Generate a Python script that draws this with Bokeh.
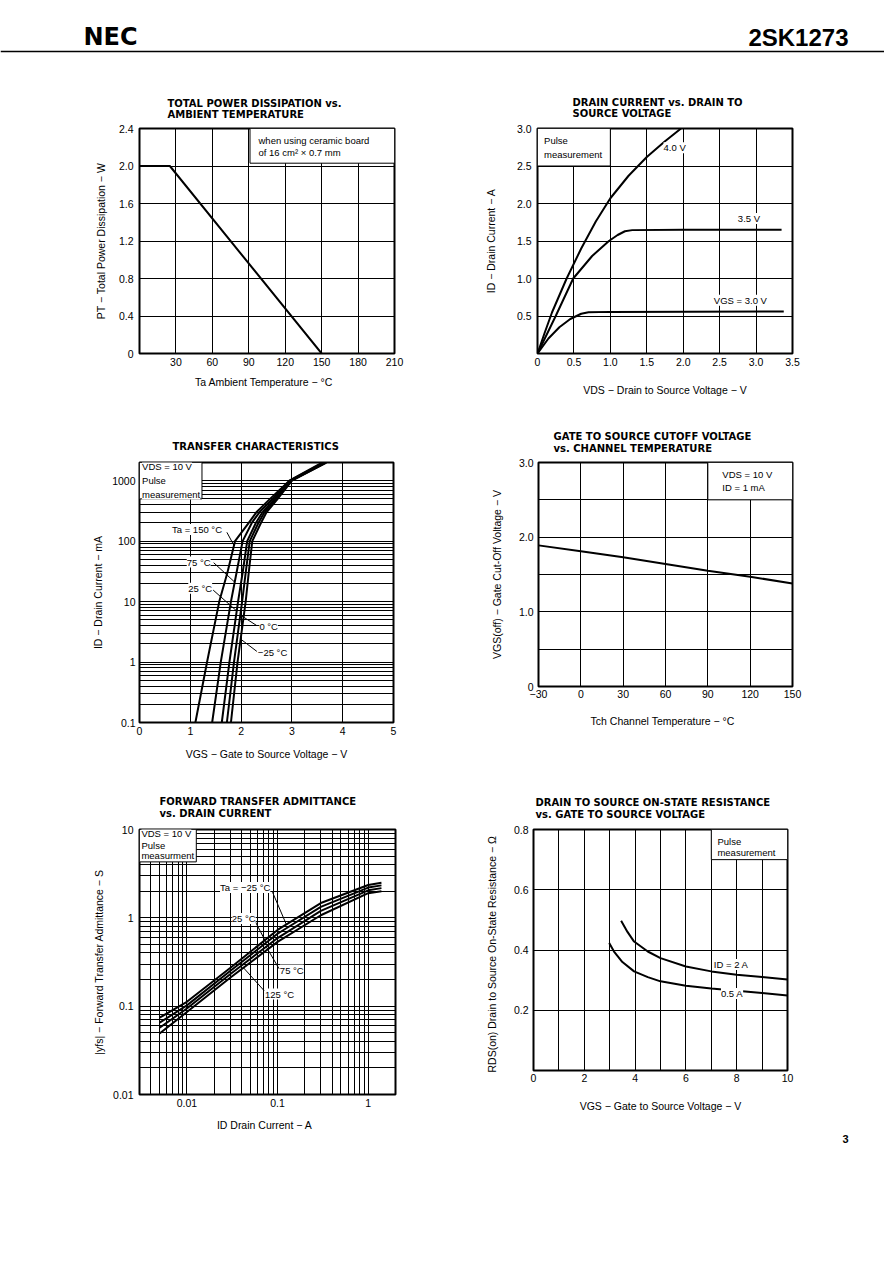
import numpy as np
from bokeh.plotting import figure
from bokeh.layouts import column, row
from bokeh.models import Range1d, FixedTicker, PrintfTickFormatter
from bokeh.core.properties import value
from bokeh.embed import file_html
from bokeh.resources import INLINE

# ---------------- data ----------------
# 1. Total power dissipation vs ambient temperature
pd_ta = [0, 25, 150]
pd_pt = [2.0, 2.0, 0.0]

# 2. Drain current vs drain-source voltage
vds_40 = [0, 0.1, 0.2, 0.4, 0.6, 0.8, 1.0, 1.25, 1.5, 1.75, 1.97]
id_40 = [0, 0.28, 0.55, 1.0, 1.4, 1.76, 2.07, 2.37, 2.62, 2.83, 3.0]
vds_35 = [0, 0.25, 0.49, 0.75, 0.98, 1.1, 1.2, 1.3, 2.0, 3.35]
id_35 = [0, 0.5, 1.0, 1.3, 1.5, 1.58, 1.63, 1.645, 1.65, 1.65]
vds_30 = [0, 0.15, 0.3, 0.45, 0.6, 0.7, 1.0, 3.38]
id_30 = [0, 0.2, 0.35, 0.46, 0.53, 0.55, 0.555, 0.56]

# 3. Transfer characteristics (ID in mA, VGS in V)
tc_id = [0.1, 1, 10, 30, 100, 200, 300, 500, 1000, 2000]
tc_vgs_150 = [1.10, 1.33, 1.57, 1.73, 1.88, 2.15, 2.30, 2.57, 2.95, 3.60]
tc_vgs_75 = [1.43, 1.60, 1.80, 1.91, 2.03, 2.21, 2.36, 2.62, 2.96, 3.63]
tc_vgs_25 = [1.62, 1.77, 1.94, 2.03, 2.12, 2.29, 2.42, 2.66, 2.98, 3.65]
tc_vgs_0 = [1.72, 1.86, 2.02, 2.09, 2.17, 2.34, 2.46, 2.69, 2.99, 3.67]
tc_vgs_m25 = [1.80, 1.93, 2.09, 2.15, 2.22, 2.39, 2.50, 2.72, 3.00, 3.68]

# 4. Gate cut-off voltage vs channel temperature
vth_tch = [-30, 0, 30, 60, 90, 120, 150]
vth_v = [1.89, 1.81, 1.73, 1.64, 1.55, 1.47, 1.38]

# 5. Forward transfer admittance vs drain current
yfs_id = [0.005, 0.01, 0.03, 0.1, 0.3, 1.0, 1.4]
yfs_m25 = [0.074, 0.112, 0.27, 0.73, 1.47, 2.35, 2.5]
yfs_25 = [0.065, 0.102, 0.25, 0.66, 1.33, 2.2, 2.33]
yfs_75 = [0.057, 0.094, 0.23, 0.59, 1.2, 2.05, 2.17]
yfs_125 = [0.049, 0.086, 0.21, 0.535, 1.07, 1.9, 2.0]

# 6. On-state resistance vs gate-source voltage
rds_vgs_2a = [3.45, 3.7, 3.96, 4.5, 5.0, 6.0, 7.0, 8.0, 9.0, 10.0]
rds_2a = [0.497, 0.46, 0.428, 0.395, 0.373, 0.345, 0.329, 0.318, 0.31, 0.302]
rds_vgs_05a = [2.98, 3.17, 3.5, 3.96, 4.5, 5.0, 6.0, 7.0, 8.0, 9.0, 10.0]
rds_05a = [0.423, 0.395, 0.36, 0.329, 0.31, 0.296, 0.281, 0.272, 0.265, 0.257, 0.249]

# ---------------- style helpers ----------------
TF = "Liberation Sans"
TITLE_FONT = "DejaVu Sans"
PAGE_W = 884


def log_grid(lo, hi):
    out = []
    for e in range(-4, 5):
        for k in range(1, 10):
            v = k * 10.0 ** e
            if lo * 1.0001 < v < hi * 0.9999:
                out.append(v)
    return out


def make_fig(fw, fh, bl, br, bt, bb, xr, yr, xt="linear", yt="linear"):
    p = figure(frame_width=fw, frame_height=fh, x_range=Range1d(*xr), y_range=Range1d(*yr),
               x_axis_type=xt, y_axis_type=yt, output_backend="svg", toolbar_location=None,
               title=None, min_border_left=bl, min_border_right=br,
               min_border_top=bt, min_border_bottom=bb)
    p.outline_line_color = "black"
    p.outline_line_width = 2
    p.background_fill_color = "white"
    p.border_fill_color = "white"
    for ax in p.axis:
        ax.axis_line_color = None
        ax.major_tick_line_color = None
        ax.minor_tick_line_color = None
        ax.major_tick_out = 0
        ax.major_tick_in = 0
        ax.minor_tick_out = 0
        ax.minor_tick_in = 0
        ax.major_label_text_font = TF
        ax.major_label_text_font_size = "10.5px"
        ax.major_label_text_color = "black"
        ax.axis_label_text_font = TF
        ax.axis_label_text_font_size = "10.5px"
        ax.axis_label_text_font_style = "normal"
        ax.axis_label_text_color = "black"
    p.grid.grid_line_color = "black"
    p.grid.grid_line_width = 1
    return p


def strip(width, x0, y0, y1):
    # a plain text band whose coordinates are page pixels
    s = figure(frame_width=width, frame_height=y1 - y0, x_range=Range1d(x0, x0 + width),
               y_range=Range1d(y1, y0), output_backend="svg", toolbar_location=None,
               title=None, min_border=0, x_axis_location=None, y_axis_location=None)
    s.grid.visible = False
    s.outline_line_color = None
    s.background_fill_color = "white"
    s.border_fill_color = "white"
    return s


def title_text(s, x, ys, lines):
    s.text(x=[x] * len(lines), y=ys, text=lines, text_font=value(TITLE_FONT),
           text_font_size=value("10px"), text_font_style="bold", text_baseline="middle",
           text_align="left", text_color="black")


def texts(p, xs, ys, ts, size="9.5px", align="left"):
    p.text(x=xs, y=ys, text=ts, text_font=value(TF), text_font_size=value(size),
           text_baseline="middle", text_align=align, text_color="black",
           background_fill_color="white")


def box(p, l, r, b, t):
    p.quad(left=[l], right=[r], bottom=[b], top=[t], fill_color="white",
           line_color="black", line_width=1)


# ---------------- header + row-1 titles ----------------
topband = strip(PAGE_W, 0, 0, 120)
topband.text(x=[83], y=[36], text=["NEC"], text_font=value("DejaVu Sans"),
             text_font_size=value("24px"), text_font_style="bold", text_baseline="middle",
             text_align="left", text_color="black")
topband.text(x=[848], y=[36.5], text=["2SK1273"], text_font=value("Liberation Sans"),
             text_font_size=value("24px"), text_font_style="bold", text_baseline="middle",
             text_align="right", text_color="black")
topband.segment(x0=[0], y0=[51], x1=[PAGE_W], y1=[51], line_color="black", line_width=1.5)
title_text(topband, 167, [103, 114], ["TOTAL POWER DISSIPATION vs.", "AMBIENT TEMPERATURE"])
title_text(topband, 572, [102, 113], ["DRAIN CURRENT vs. DRAIN TO", "SOURCE VOLTAGE"])

# ---------------- chart 1 ----------------
c1 = make_fig(255, 225, 139, 20, 8, 57, (0, 210), (0, 2.4))
c1.xaxis.ticker = FixedTicker(ticks=[30, 60, 90, 120, 150, 180, 210])
c1.yaxis.ticker = FixedTicker(ticks=[0, 0.4, 0.8, 1.2, 1.6, 2.0, 2.4])
c1.yaxis.formatter = PrintfTickFormatter(format="%.1f")
c1.yaxis.major_label_overrides = {0: "0"}
c1.xgrid.ticker = FixedTicker(ticks=[30, 60, 90, 120, 150, 180])
c1.ygrid.ticker = FixedTicker(ticks=[0.4, 0.8, 1.2, 1.6, 2.0])
c1.xaxis.axis_label = "Ta   Ambient Temperature − °C"
c1.yaxis.axis_label = "PT − Total Power Dissipation − W"
c1.xaxis.major_label_standoff = 4
c1.xaxis.axis_label_standoff = 7
c1.yaxis.major_label_standoff = 6
c1.yaxis.axis_label_standoff = 9
box(c1, 91, 210, 2.03, 2.4)
texts(c1, [98, 98], [2.277, 2.145], ["when using ceramic board", "of 16 cm² × 0.7 mm"])
c1.line(pd_ta, pd_pt, line_color="black", line_width=2)

# ---------------- chart 2 ----------------
c2 = make_fig(255, 225, 123, 40, 8, 57, (0, 3.5), (0, 3.0))
c2.xaxis.ticker = FixedTicker(ticks=[0, 0.5, 1.0, 1.5, 2.0, 2.5, 3.0, 3.5])
c2.yaxis.ticker = FixedTicker(ticks=[0.5, 1.0, 1.5, 2.0, 2.5, 3.0])
c2.xaxis.formatter = PrintfTickFormatter(format="%.1f")
c2.yaxis.formatter = PrintfTickFormatter(format="%.1f")
c2.xaxis.major_label_overrides = {0: "0"}
c2.xgrid.ticker = FixedTicker(ticks=[0.5, 1.0, 1.5, 2.0, 2.5, 3.0])
c2.ygrid.ticker = FixedTicker(ticks=[0.5, 1.0, 1.5, 2.0, 2.5])
c2.xaxis.axis_label = "VDS − Drain to Source Voltage − V"
c2.yaxis.axis_label = "ID − Drain Current − A"
c2.xaxis.major_label_standoff = 4
c2.xaxis.axis_label_standoff = 15
c2.yaxis.major_label_standoff = 6
c2.yaxis.axis_label_standoff = 17
box(c2, 0, 1.0, 2.5, 3.0)
texts(c2, [0.09, 0.09], [2.836, 2.66], ["Pulse", "measurement"])
for xs, ys in ((vds_40, id_40), (vds_35, id_35), (vds_30, id_30)):
    c2.line(xs, ys, line_color="black", line_width=2)
texts(c2, [1.73, 2.75, 2.42], [2.745, 1.8, 0.71], ["4.0 V", "3.5 V", "VGS = 3.0 V"])

# ---------------- row-2 titles ----------------
band2 = strip(PAGE_W, 0, 410, 455)
title_text(band2, 172, [446], ["TRANSFER CHARACTERISTICS"])
title_text(band2, 553, [436, 448], ["GATE TO SOURCE CUTOFF VOLTAGE", "vs. CHANNEL TEMPERATURE"])

# ---------------- chart 3 ----------------
c3 = make_fig(254, 260, 139, 20, 6, 54, (0, 5), (0.1, 2000), yt="log")
c3.xaxis.ticker = FixedTicker(ticks=[0, 1, 2, 3, 4, 5])
c3.yaxis.ticker = FixedTicker(ticks=[0.1, 1, 10, 100, 1000])
c3.yaxis.major_label_overrides = {0.1: "0.1", 1: "1", 10: "10", 100: "100", 1000: "1000"}
c3.xgrid.ticker = FixedTicker(ticks=[1, 2, 3, 4])
c3.ygrid.ticker = FixedTicker(ticks=log_grid(0.1, 2000))
c3.xaxis.axis_label = "VGS − Gate to Source Voltage − V"
c3.yaxis.axis_label = "ID − Drain Current − mA"
c3.xaxis.major_label_standoff = 4
c3.xaxis.axis_label_standoff = 10
c3.yaxis.major_label_standoff = 4
c3.yaxis.axis_label_standoff = 5
box(c3, 0, 1.23, 500, 2000)
texts(c3, [0.05, 0.05, 0.05], [1706, 990, 602], ["VDS = 10 V", "Pulse", "measurement"])
tc_curves = [tc_vgs_150, tc_vgs_75, tc_vgs_25, tc_vgs_0, tc_vgs_m25]
for v in tc_curves:
    c3.line(v, tc_id, line_color="black", line_width=2)


def tc_x(vgs, idv):
    return float(np.interp(np.log10(idv), np.log10(tc_id), vgs))


lead3 = [(1.72, 140, tc_vgs_150, 85), (1.46, 44, tc_vgs_75, 21), (1.45, 15.5, tc_vgs_25, 7),
         (2.31, 4.0, tc_vgs_0, 6), (2.31, 1.5, tc_vgs_m25, 2.4)]
c3.segment(x0=[a[0] for a in lead3], y0=[a[1] for a in lead3],
           x1=[tc_x(a[2], a[3]) for a in lead3], y1=[a[3] for a in lead3],
           line_color="black", line_width=1)
texts(c3, [0.64, 0.93, 0.96, 2.36, 2.33], [156, 45, 16.6, 3.9, 1.46],
      ["Ta = 150 °C", "75 °C", "25 °C", "0 °C", "−25 °C"])

# ---------------- chart 4 ----------------
c4 = make_fig(254, 224, 125, 40, 7, 89, (-30, 150), (0, 3.0))
c4.xaxis.ticker = FixedTicker(ticks=[-30, 0, 30, 60, 90, 120, 150])
c4.xaxis.major_label_overrides = {-30: "−30"}
c4.yaxis.ticker = FixedTicker(ticks=[0, 1.0, 2.0, 3.0])
c4.yaxis.formatter = PrintfTickFormatter(format="%.1f")
c4.yaxis.major_label_overrides = {0: "0"}
c4.xgrid.ticker = FixedTicker(ticks=[0, 30, 60, 90, 120])
c4.ygrid.ticker = FixedTicker(ticks=[0.5, 1.0, 1.5, 2.0, 2.5])
c4.xaxis.axis_label = "Tch   Channel Temperature − °C"
c4.yaxis.axis_label = "VGS(off) − Gate Cut-Off Voltage − V"
c4.xaxis.major_label_standoff = 3
c4.xaxis.axis_label_standoff = 14
c4.yaxis.major_label_standoff = 5
c4.yaxis.axis_label_standoff = 13
box(c4, 90, 150, 2.5, 3.0)
texts(c4, [100.3, 100.3], [2.84, 2.66], ["VDS = 10 V", "ID = 1 mA"])
c4.line(vth_tch, vth_v, line_color="black", line_width=2)

# ---------------- row-3 titles ----------------
band3 = strip(PAGE_W, 0, 775, 822)
title_text(band3, 159, [801, 813], ["FORWARD TRANSFER ADMITTANCE", "vs. DRAIN CURRENT"])
title_text(band3, 535, [802, 814], ["DRAIN TO SOURCE ON-STATE RESISTANCE",
                                    "vs. GATE TO SOURCE VOLTAGE"])

# ---------------- chart 5 ----------------
c5 = make_fig(256, 265, 139, 20, 7, 38, (0.003, 2), (0.01, 10), xt="log", yt="log")
c5.xaxis.ticker = FixedTicker(ticks=[0.01, 0.1, 1])
c5.xaxis.major_label_overrides = {0.01: "0.01", 0.1: "0.1", 1: "1"}
c5.yaxis.ticker = FixedTicker(ticks=[0.01, 0.1, 1, 10])
c5.yaxis.major_label_overrides = {0.01: "0.01", 0.1: "0.1", 1: "1", 10: "10"}
c5.xgrid.ticker = FixedTicker(ticks=log_grid(0.003, 2))
c5.ygrid.ticker = FixedTicker(ticks=log_grid(0.01, 10))
c5.xaxis.axis_label = "ID   Drain Current − A"
c5.yaxis.axis_label = "|yfs| − Forward Transfer Admittance − S"
c5.xaxis.major_label_standoff = 4
c5.xaxis.axis_label_standoff = 9
c5.yaxis.major_label_standoff = 6
c5.yaxis.axis_label_standoff = 5
box(c5, 0.003, 0.0127, 4.3, 10)
texts(c5, [0.00315, 0.00315, 0.00315], [9.04, 6.65, 5.13], ["VDS = 10 V", "Pulse", "measurment"])
yfs_curves = [yfs_m25, yfs_25, yfs_75, yfs_125]
for v in yfs_curves:
    c5.line(yfs_id, v, line_color="black", line_width=2)


def yfs_y(curve, x):
    return float(10 ** np.interp(np.log10(x), np.log10(yfs_id), np.log10(curve)))


lead5 = [(0.088, 1.95, yfs_m25, 0.125), (0.057, 0.9, yfs_25, 0.075),
         (0.104, 0.265, yfs_75, 0.075), (0.071, 0.15, yfs_125, 0.042)]
c5.segment(x0=[a[0] for a in lead5], y0=[a[1] for a in lead5],
           x1=[a[3] for a in lead5], y1=[yfs_y(a[2], a[3]) for a in lead5],
           line_color="black", line_width=1)
texts(c5, [0.0232, 0.0313, 0.106, 0.0726], [2.21, 0.984, 0.256, 0.137],
      ["Ta = −25 °C", "25 °C", "75 °C", "125 °C"])

# ---------------- chart 6 ----------------
c6 = make_fig(254, 241, 118, 63, 6, 63, (0, 10), (0, 0.8))
c6.xaxis.ticker = FixedTicker(ticks=[0, 2, 4, 6, 8, 10])
c6.yaxis.ticker = FixedTicker(ticks=[0.2, 0.4, 0.6, 0.8])
c6.yaxis.formatter = PrintfTickFormatter(format="%.1f")
c6.xgrid.ticker = FixedTicker(ticks=[1, 2, 3, 4, 5, 6, 7, 8, 9])
c6.ygrid.ticker = FixedTicker(ticks=[0.2, 0.4, 0.6])
c6.xaxis.axis_label = "VGS − Gate to Source Voltage − V"
c6.yaxis.axis_label = "RDS(on)    Drain to Source On-State Resistance − Ω"
c6.xaxis.major_label_standoff = 3
c6.xaxis.axis_label_standoff = 15
c6.yaxis.major_label_standoff = 5
c6.yaxis.axis_label_standoff = 13
box(c6, 7, 10, 0.7, 0.8)
texts(c6, [7.24, 7.24], [0.759, 0.724], ["Pulse", "measurement"])
c6.line(rds_vgs_2a, rds_2a, line_color="black", line_width=2)
c6.line(rds_vgs_05a, rds_05a, line_color="black", line_width=2)
texts(c6, [7.1, 7.38], [0.352, 0.256], ["ID = 2 A", "0.5 A"])

# ---------------- page number band ----------------
foot = strip(PAGE_W, 0, 1132, 1150)
foot.text(x=[845], y=[1137.5], text=["3"], text_font=value(TF), text_font_size=value("11px"),
          text_font_style="bold", text_baseline="middle", text_align="center", text_color="black")

page = column(topband, row(c1, c2), band2, row(c3, c4), band3, row(c5, c6), foot)
open("out.html", "w").write(file_html(page, INLINE))
